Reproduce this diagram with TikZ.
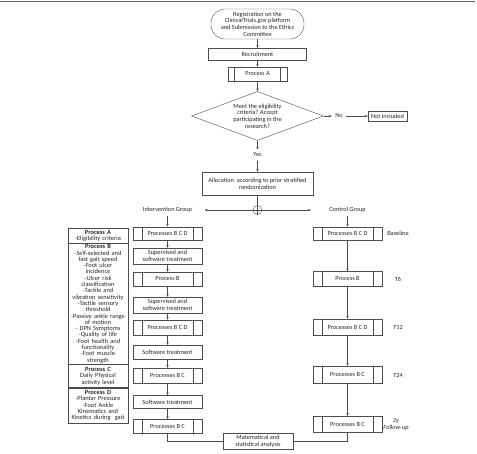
\documentclass[tikz,border=0pt]{standalone}
\usepackage{fontspec}
\setmainfont{Carlito}
\usetikzlibrary{shapes.geometric,arrows.meta}

\newcommand\picwidth{477pt}
\newcommand\picheight{454pt}
\newcommand\midx{257.5pt}
\newcommand\intx{167.5pt}
\newcommand\ctlx{347.5pt}
\newcommand\notex{398pt}
\newcommand\legx{98pt}

\tikzset{
	every node/.style = {font = \fontsize{6.3}{6.7}\selectfont, text = black!85},
	boxline/.style = {draw = black!70, line width = 0.4pt},
	arr/.style = {boxline, -{Stealth[length = 2.8pt, width = 2.4pt]}},
	stepbox/.style = {boxline, minimum width = 69pt, minimum height = 15pt, align = center, inner sep = 1pt},
	procbox/.style = {stepbox, path picture = {
		\draw [boxline] ([xshift = #1]path picture bounding box.north west) -- ([xshift = #1]path picture bounding box.south west)
			([xshift = -#1]path picture bounding box.north east) -- ([xshift = -#1]path picture bounding box.south east);
	}},
	procbox/.default = 9pt,
	legrow/.style = {boxline, text width = 58pt, align = center, inner sep = 1pt, anchor = north,
		font = \fontsize{6.4}{6.3}\selectfont},
}

\begin{document}
\begin{tikzpicture}[yscale = -1, line width = 0.4pt]
	\useasboundingbox (0, 0) rectangle (\picwidth, \picheight);
	\draw [line width = 0.8pt, black!60] (0, 1pt) -- (475pt, 1pt);

	% Einschluss:
	\node [boxline, rounded corners = 14pt, minimum width = 93pt, minimum height = 30pt, align = center, inner sep = 1pt] (reg) at (\midx, 24pt)
		{Registration on the\\ClinicalTrials.gov platform\\and Submission to the Ethics\\Committee};
	\node [stepbox, minimum width = 98pt, minimum height = 12pt] (recr) at (\midx, 54pt) {Recruitment};
	\node [procbox = 6.5pt, minimum width = 59pt, minimum height = 14pt] (procA) at (\midx, 74pt) {Process A};
	\node [boxline, diamond, aspect = 2.7, minimum width = 132pt, minimum height = 49pt, inner sep = 0pt, align = center] (elig) at (\midx, 116pt)
		{Meet the eligibility\\criteria? Accept\\participating in the\\research?};
	\node (no) at (339pt, 116pt) {No};
	\node [stepbox, minimum width = 39pt, minimum height = 10pt] (excl) at (387.5pt, 116pt) {Not included};
	\node (yes) at (\midx, 155pt) {Yes};
	\node [stepbox, minimum width = 111pt, minimum height = 23pt] (alloc) at (\midx, 183.5pt)
		{Allocation\ \ according to prior stratified\\randomization};
	\node [boxline, circle, minimum size = 9pt, inner sep = 0pt] (junc) at (\midx, 210pt) {};
	\node (intgrp) at (\intx, 210pt) {Intervention Group};
	\node (ctlgrp) at (\ctlx, 210pt) {Control Group};

	\draw [arr] (reg) -- (recr);
	\draw [arr] (recr) -- (procA);
	\draw [arr] (procA) -- (elig);
	\draw [arr] (elig.east) -- (no.west);
	\draw [arr] (no.east) -- (excl.west);
	\draw [arr] (elig.south) -- (yes.north);
	\draw [arr] (yes) -- (alloc);
	\draw [boxline] (alloc.south) -- (junc.south);
	\draw [arr] (junc.center) -- ([xshift = 9pt]intgrp.east);
	\draw [arr] (junc.center) -- ([xshift = -15pt]ctlgrp.west);

	% Interventionsgruppe:
	\node [procbox, minimum height = 13.5pt] (i1) at (\intx, 233.5pt) {Processes B C D};
	\node [stepbox, minimum height = 16pt] (i2) at (\intx, 256pt) {Supervised and\\software treatment};
	\node [procbox, minimum height = 14pt] (i3) at (\intx, 279pt) {Process B};
	\node [stepbox, minimum height = 16pt] (i4) at (\intx, 305pt) {Supervised and\\software treatment};
	\node [procbox, minimum height = 15pt] (i5) at (\intx, 327.5pt) {Processes B C D};
	\node [stepbox, minimum height = 14pt] (i6) at (\intx, 352pt) {Software treatment};
	\node [procbox, minimum height = 15pt] (i7) at (\intx, 375.5pt) {Processes B C};
	\node [stepbox, minimum height = 13pt] (i8) at (\intx, 402pt) {Software treatment};
	\node [procbox, minimum height = 13.5pt] (i9) at (\intx, 426pt) {Processes B C};
	\draw [arr] (intgrp) -- (i1);
	\foreach \a/\b in {i1/i2, i2/i3, i3/i4, i4/i5, i5/i6, i6/i7, i7/i8, i8/i9} {
		\draw [arr] (\a) -- (\b);
	}

	% Kontrollgruppe:
	\node [procbox, minimum height = 13.5pt] (c1) at (\ctlx, 233.5pt) {Processes B C D};
	\node [procbox, minimum height = 15pt] (c2) at (\ctlx, 279pt) {Process B};
	\node [procbox, minimum height = 16pt] (c3) at (\ctlx, 327pt) {Processes B C D};
	\node [procbox, minimum height = 17pt] (c4) at (\ctlx, 374.5pt) {Processes B C};
	\node [procbox, minimum height = 16pt] (c5) at (\ctlx, 424pt) {Processes B C};
	\draw [arr] (ctlgrp) -- (c1);
	\foreach \a/\b in {c1/c2, c2/c3, c3/c4, c4/c5} {
		\draw [arr] (\a) -- (\b);
	}
	\node (t0) at (\notex, 233.5pt) {Baseline};
	\node (t6) at (\notex, 279pt) {T6};
	\node (t12) at (\notex, 327pt) {T12};
	\node (t24) at (\notex, 375pt) {T24};
	\node [align = center, font = \fontsize{6.3}{7.5}\selectfont\itshape] (t2y) at (396pt, 424.5pt) {2y\\Follow-up};

	% Auswertung:
	\node [stepbox, minimum width = 70pt, minimum height = 16.5pt] (stat) at (258pt, 441pt) {Matematical and\\statistical analysis};
	\draw [boxline] (i9) |- (stat);
	\draw [boxline] (c5) |- (stat);

	% Legende:
	\node [legrow, minimum height = 15pt] (legA) at (\legx, 228pt) {\textbf{Process A}\\-Eligibility criteria};
	\node [legrow, minimum height = 120pt] (legB) at (legA.south) {\textbf{Process B}\\-Self-selected and\\fast gait speed\\-Foot ulcer\\incidence\\-Ulcer risk\\classification\\-Tactile and\\vibration sensitivity\\-Tactile sensory\\threshold\\-Passive ankle range\\of motion\\- DPN Symptoms\\-Quality of life\\-Foot health and\\functionality\\-Foot muscle\\strength};
	\node [legrow, minimum height = 23pt] (legC) at (legB.south) {\textbf{Process C}\\Daily Physical\\activity level};
	\node [legrow, minimum height = 35pt] (legD) at (legC.south) {\textbf{Process D}\\-Plantar Pressure\\-Foot Ankle\\Kinematics and\\Kinetics during\ \ gait};
\end{tikzpicture}
\end{document}
